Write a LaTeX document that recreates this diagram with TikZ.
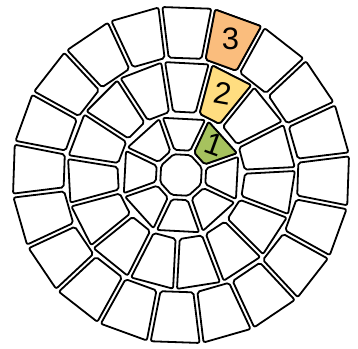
\documentclass[tikz,border=0pt]{standalone}
\usepackage{fontspec}
\setmainfont{Liberation Sans}

\definecolor{cellgreen}{RGB}{166,194,94}
\definecolor{cellyellow}{RGB}{255,221,128}
\definecolor{cellorange}{RGB}{250,189,125}

% one cell of a ring: inner radius, outer radius, start angle, end angle, fill
\newcommand{\ringcell}[5]{%
  \filldraw[cell,fill=#5]
    ({#3+\gap/#1*57.3}:{#1+\gap}) -- ({#3+\gap/#2*57.3}:{#2-\gap}) --
    ({#4-\gap/#2*57.3}:{#2-\gap}) -- ({#4-\gap/#1*57.3}:{#1+\gap}) -- cycle;}

\begin{document}
\begin{tikzpicture}[x=1pt,y=1pt,
  cell/.style={draw=black,line width=1.8pt,rounded corners=2pt,line join=round},
  digit/.style={inner sep=0pt,font=\fontsize{31}{31}\selectfont}]
  \useasboundingbox (-181,-173) rectangle (177,175);
  % Parameters
  \def\gap{2.0}     % half of the white gap between cells
  \def\rZero{24}    % centre cell
  \def\rOne{62}     % ring 1 outer radius
  \def\rTwo{116}    % ring 2 outer radius
  \def\rThree{171}  % ring 3 outer radius
  % Centre cell
  \filldraw[cell,fill=white] (64.5:{\rZero-\gap})
    \foreach \k in {1,...,7} {-- ({64.5+45*\k}:{\rZero-\gap})} -- cycle;
  % Ring 1 : 8 cells
  \foreach \k in {0,...,7}
  {\ringcell{\rZero}{\rOne}{64.5+45*\k}{109.5+45*\k}{white}}
  % Ring 2 : 15 cells
  \foreach \k in {0,...,14}
  {\ringcell{\rOne}{\rTwo}{75+24*\k}{99+24*\k}{white}}
  % Ring 3 : 20 cells
  \foreach \k in {0,...,19}
  {\ringcell{\rTwo}{\rThree}{79+18*\k}{97+18*\k}{white}}
  % Marked cells
  \ringcell{\rZero}{\rOne}{19.5}{64.5}{cellgreen}
  \ringcell{\rOne}{\rTwo}{51}{75}{cellyellow}
  \ringcell{\rTwo}{\rThree}{61}{79}{cellorange}
  \node[digit,rotate=-20] (one) at (42:45) {1};
  \node[digit,rotate=-10] (two) at (63:92) {2};
  \node[digit] (three) at (70:145) {3};
\end{tikzpicture}
\end{document}
